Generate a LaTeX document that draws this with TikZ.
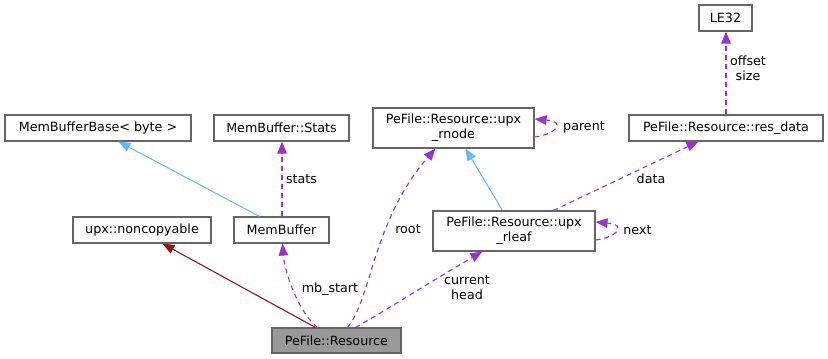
\documentclass[tikz,border=0pt]{standalone}
\usepackage{fontspec}
\setmainfont{DejaVu Sans}
\usetikzlibrary{arrows.meta,calc}
\definecolor{edgeborder}{HTML}{666666}
\definecolor{focusfill}{HTML}{999999}
\definecolor{usecol}{HTML}{9A32CD}
\definecolor{inhcol}{HTML}{63B8FF}
\definecolor{privcol}{HTML}{8B1A1A}
\begin{document}
\begin{tikzpicture}[x=1pt,y=-1pt,
  every node/.style={font=\fontsize{12.7}{15}\selectfont},
  cls/.style={draw=edgeborder,line width=1.1pt,rectangle,inner sep=0pt,align=center,fill=white},
  focus/.style={cls,fill=focusfill},
  inh/.style={-{Triangle[length=12pt,width=9.5pt,fill=inhcol]},draw=inhcol,line width=1pt},
  priv/.style={-{Triangle[length=12pt,width=9.5pt,fill=privcol]},draw=privcol,line width=1.1pt},
  uses/.style={-{Triangle[length=12pt,width=9.5pt,fill=usecol]},draw=usecol,line width=1.1pt,dash pattern=on 5pt off 4pt},
  lbl/.style={inner sep=0pt,align=center}]
\useasboundingbox (0,0) rectangle (828,359);

% classes
\node[cls,minimum width=53pt,minimum height=26pt] (le32) at (725.5,18) {LE32};
\node[cls,minimum width=186pt,minimum height=26pt] (mbb) at (98,128) {MemBufferBase< byte >};
\node[cls,minimum width=135pt,minimum height=26pt] (stats) at (281.5,128) {MemBuffer::Stats};
\node[cls,minimum width=161pt,minimum height=40pt] (rnode) at (453.5,128) {PeFile::Resource::upx\\\_rnode};
\node[cls,minimum width=194pt,minimum height=26pt] (resd) at (726,128) {PeFile::Resource::res\_data};
\node[cls,minimum width=138pt,minimum height=26pt] (nonc) at (142,230) {upx::noncopyable};
\node[cls,minimum width=95pt,minimum height=26pt] (membuf) at (281.5,230) {MemBuffer};
\node[cls,minimum width=162pt,minimum height=40pt] (rleaf) at (514,231) {PeFile::Resource::upx\\\_rleaf};
\node[focus,minimum width=129pt,minimum height=25pt] (res) at (336.5,340.5) {PeFile::Resource};

% inheritance
\draw[inh] ($(membuf.north west)+(26,0)$) -- ($(mbb.south west)+(114,0)$);
\draw[inh] ($(rleaf.north west)+(70,0)$) -- ($(rnode.south west)+(93,0)$);
\draw[priv] ($(res.north west)+(44,0)$) -- ($(nonc.south west)+(90,0)$);

% usage relations
\draw[uses] ($(membuf.north)+(0.5,0)$) -- ($(stats.south)+(0.5,0)$);
\node[lbl] (lstats) at (301.5,179) {stats};

\draw[uses] ($(res.north west)+(46,0)$) .. controls (300,314) and (285,275) .. ($(membuf.south west)+(49,0)$);
\node[lbl] (lmb) at (330,289) {mb\_start};

\draw[uses] ($(res.north west)+(76,0)$) .. controls (372,298) and (372,222) .. ($(rnode.south west)+(63,0)$);
\node[lbl] (lroot) at (408,229) {root};

\draw[uses] ($(res.north west)+(84,0)$) .. controls (380,314) and (430,282) .. ($(rleaf.south west)+(50,0)$);
\node[lbl] (lcur) at (467,288) {current\\head};

\draw[uses] ($(rleaf.north west)+(121,0)$) -- ($(resd.south west)+(70,0)$);
\node[lbl] (ldata) at (651,179) {data};

\draw[uses] (resd.north) -- (resd.north |- le32.south);
\node[lbl] (loff) at (748,68) {offset\\size};

\draw[uses] ($(rnode.east)+(0,9)$) .. controls (554,135) and (568,122) .. ($(rnode.east)+(0,-9)$);
\node[lbl] (lpar) at (584,127) {parent};

\draw[uses] ($(rleaf.east)+(0,9)$) .. controls (615,238) and (629,225) .. ($(rleaf.east)+(0,-9)$);
\node[lbl] (lnext) at (637.5,230) {next};
\end{tikzpicture}
\end{document}
